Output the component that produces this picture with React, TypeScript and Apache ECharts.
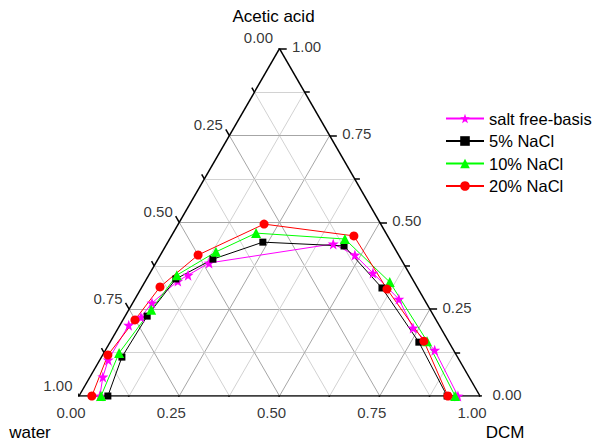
import React, { useEffect, useRef } from "react";
import * as echarts from "echarts";

// ternary data: fractions of acetic acid (top) and DCM (bottom-right); water = 1 - both
const saltFreeAcetic = [0, 0.055, 0.104, 0.204, 0.227, 0.268, 0.331, 0.348, 0.383, 0.438, 0.406, 0.354, 0.279, 0.196, 0.132, 0];
const saltFreeDCM = [0.052, 0.032, 0.021, 0.022, 0.041, 0.048, 0.081, 0.098, 0.133, 0.415, 0.485, 0.556, 0.658, 0.735, 0.821, 0.945];

const nacl5Acetic = [0, 0.112, 0.23, 0.337, 0.394, 0.443, 0.432, 0.311, 0.155, 0];
const nacl5DCM = [0.072, 0.051, 0.055, 0.073, 0.137, 0.237, 0.445, 0.6, 0.77, 0.918];

const nacl10Acetic = [0, 0.124, 0.248, 0.348, 0.415, 0.469, 0.452, 0.328, 0.158, 0];
const nacl10DCM = [0.055, 0.038, 0.056, 0.07, 0.134, 0.207, 0.437, 0.611, 0.789, 0.938];

const nacl20Acetic = [0, 0.118, 0.219, 0.314, 0.406, 0.495, 0.461, 0.308, 0.158, 0];
const nacl20DCM = [0.032, 0.013, 0.03, 0.045, 0.094, 0.214, 0.455, 0.614, 0.781, 0.92];

const seriesNames = ["salt free-basis", "5% NaCl", "10% NaCl", "20% NaCl"];
const tickLabelValues = [0, 0.25, 0.5, 0.75, 1];
const gridSteps = [0.125, 0.25, 0.375, 0.5, 0.625, 0.75, 0.875];
const tickSteps = [0, 0.125, 0.25, 0.375, 0.5, 0.625, 0.75, 0.875, 1];

const SQ = Math.sqrt(3) / 2;
const toXY = (acetic: number, dcm: number) => [dcm + acetic / 2, acetic * SQ];

const FONT = "'Liberation Sans', Arial, sans-serif";
const STAR =
  "path://M0,-10L2.35,-3.24L9.51,-3.09L3.8,1.24L5.88,8.09L0,4.3L-5.88,8.09L-3.8,1.24L-9.51,-3.09L-2.35,-3.24Z";

export default function App() {
  const ref = useRef<HTMLDivElement>(null);
  useEffect(() => {
    if (!ref.current) return;
    const chart = echarts.init(ref.current, null, { renderer: "svg" });

    const isMajor = (t: number) => Math.abs(t * 4 - Math.round(t * 4)) < 1e-9;
    const gridLines: any[] = [];
    gridSteps.forEach((t) => {
      const color = isMajor(t) ? "#a6a6a6" : "#d2d2d2";
      gridLines.push({ coords: [toXY(t, 0), toXY(t, 1 - t)], lineStyle: { color, opacity: 1 } });
      gridLines.push({ coords: [toXY(0, t), toXY(1 - t, t)], lineStyle: { color, opacity: 1 } });
      gridLines.push({ coords: [toXY(0, 1 - t), toXY(1 - t, 0)], lineStyle: { color, opacity: 1 } });
    });

    const frame = [
      { coords: [toXY(0, 0), toXY(0, 1)] },
      { coords: [toXY(0, 1), toXY(1, 0)] },
      { coords: [toXY(1, 0), toXY(0, 0)] },
    ];
    const ticks: any[] = [];
    tickSteps.forEach((t) => {
      const len = isMajor(t) ? 0.018 : 0.013;
      const pl = toXY(1 - t, 0);
      ticks.push({ coords: [pl, [pl[0] - len * 0.5, pl[1] + len * SQ]] });
      const pr = toXY(t, 1 - t);
      ticks.push({ coords: [pr, [pr[0] + len, pr[1]]] });
      const pb = toXY(0, t);
      ticks.push({ coords: [pb, [pb[0] - len * 0.5, pb[1] - len * SQ]] });
    });

    const labelSeries = (
      data: number[][],
      values: number[],
      position: string,
      offset: number[],
      align: string
    ) => ({
      type: "scatter",
      silent: true,
      symbolSize: 1,
      itemStyle: { color: "rgba(0,0,0,0)" },
      z: 5,
      data: data.map((p, i) => ({ value: p, name: values[i].toFixed(2) })),
      label: {
        show: true,
        position,
        distance: 0,
        offset,
        align,
        formatter: (p: any) => p.name,
        fontSize: 15,
        fontFamily: FONT,
        color: "#000",
      },
    });

    const mk = (name: string, a: number[], d: number[], color: string, symbol: string, size: number) => ({
      name,
      type: "line",
      data: a.map((v, i) => toXY(v, d[i])),
      symbol,
      symbolSize: size,
      lineStyle: { color, width: 1 },
      itemStyle: { color },
      z: 10,
    });

    chart.setOption({
      animation: false,
      backgroundColor: "#fff",
      grid: { left: 79, top: 48.7, width: 401, height: 347.3, containLabel: false },
      xAxis: { type: "value", min: 0, max: 1, show: false },
      yAxis: { type: "value", min: 0, max: SQ, show: false },
      legend: {
        orient: "vertical",
        left: 440,
        top: 105,
        itemWidth: 38,
        itemHeight: 12,
        itemGap: 5.5,
        data: seriesNames,
        textStyle: { fontSize: 16.5, fontFamily: FONT, color: "#000" },
      },
      graphic: [
        { type: "text", style: { text: "Acetic acid", x: 273.5, y: 16, align: "center", verticalAlign: "middle", fontSize: 17, fontFamily: FONT, fill: "#000" } },
        { type: "text", style: { text: "water", x: 30, y: 432, align: "center", verticalAlign: "middle", fontSize: 17, fontFamily: FONT, fill: "#000" } },
        { type: "text", style: { text: "DCM", x: 505, y: 432, align: "center", verticalAlign: "middle", fontSize: 17, fontFamily: FONT, fill: "#000" } },
      ],
      series: [
        { type: "lines", coordinateSystem: "cartesian2d", silent: true, z: 1, lineStyle: { width: 1, opacity: 1 }, data: gridLines },
        { type: "lines", coordinateSystem: "cartesian2d", silent: true, z: 3, lineStyle: { width: 1.5, color: "#000", opacity: 1 }, data: frame.concat(ticks) },
        labelSeries(tickLabelValues.map((w) => toXY(1 - w, 0)), tickLabelValues, "left", [-6, -11], "right"),
        labelSeries(tickLabelValues.map((a) => toXY(a, 1 - a)), tickLabelValues, "right", [12, -2], "left"),
        labelSeries(tickLabelValues.map((d) => toXY(0, d)), tickLabelValues, "bottom", [-8, 8], "center"),
        mk(seriesNames[0], saltFreeAcetic, saltFreeDCM, "#ff00ff", STAR, 11),
        mk(seriesNames[1], nacl5Acetic, nacl5DCM, "#000000", "rect", 7),
        mk(seriesNames[2], nacl10Acetic, nacl10DCM, "#00ff00", "triangle", 10),
        mk(seriesNames[3], nacl20Acetic, nacl20DCM, "#ff0000", "circle", 9),
      ],
    });
    return () => chart.dispose();
  }, []);
  return (
    <div
      ref={ref}
      style={{ position: "fixed", left: 0, top: 0, width: 597, height: 443, background: "#fff" }}
    />
  );
}
